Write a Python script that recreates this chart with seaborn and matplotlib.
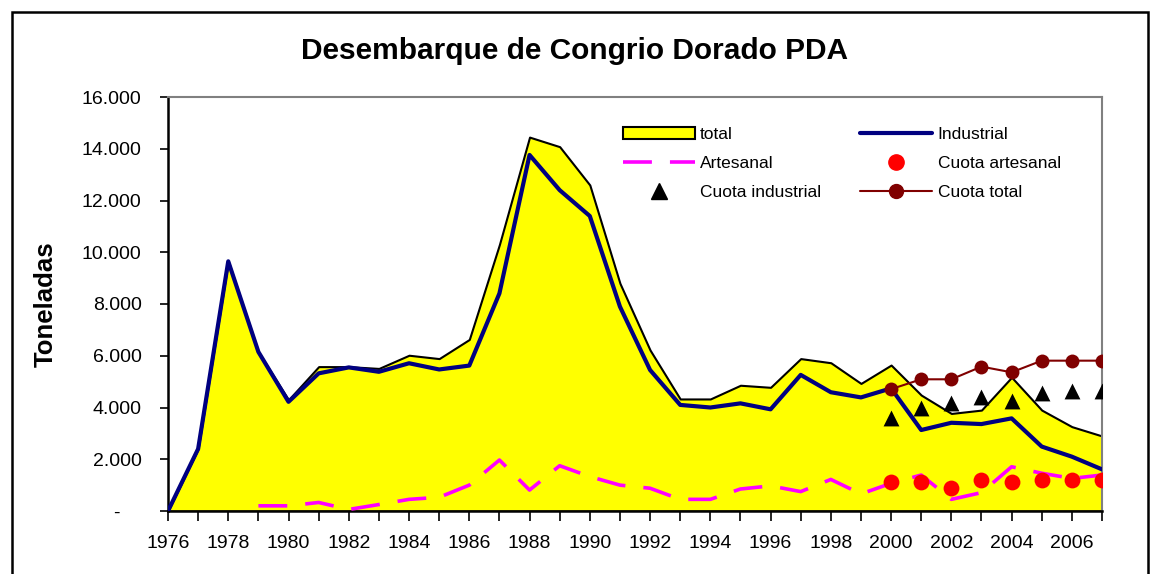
import numpy as np
import pandas as pd
import seaborn as sns
import matplotlib.pyplot as plt
from matplotlib.patches import Patch, Rectangle
from matplotlib.lines import Line2D

years = list(range(1976, 2008))
total = [0, 2400, 9650, 6150, 4300, 5580, 5580, 5510, 6020, 5890, 6630,
         10300, 14450, 14080, 12600, 8800, 6220, 4330, 4330, 4860, 4780,
         5890, 5730, 4930, 5640, 4480, 3770, 3900, 5170, 3900, 3260, 2900]
industrial = [0, 2400, 9650, 6150, 4220, 5320, 5550, 5380, 5710, 5470, 5620,
              8410, 13760, 12400, 11400, 7900, 5450, 4100, 4000, 4160, 3930,
              5260, 4590, 4390, 4740, 3130, 3410, 3360, 3580, 2490, 2100, 1610]
art_years = list(range(1979, 2008))
artesanal = [200, 200, 330, 60, 250, 450, 530, 1000, 1970, 810, 1750, 1330,
             1000, 880, 450, 450, 850, 970, 750, 1220, 660, 1070, 1390, 450,
             710, 1710, 1460, 1260, 1390]
cuota_years = list(range(2000, 2008))
cuota_art = [1130, 1130, 900, 1200, 1130, 1200, 1200, 1200]
cuota_ind = [3610, 3970, 4190, 4420, 4260, 4550, 4640, 4640]
cuota_tot = [4710, 5090, 5090, 5580, 5360, 5810, 5810, 5810]

df = pd.DataFrame({"year": years, "total": total, "industrial": industrial})
df_art = pd.DataFrame({"year": art_years, "artesanal": artesanal})
df_cuota = pd.DataFrame({"year": cuota_years, "art": cuota_art,
                         "ind": cuota_ind, "tot": cuota_tot})

sns.set_style("white")
plt.rcParams['font.family'] = ['Liberation Sans', 'DejaVu Sans']
plt.rcParams['text.color'] = 'black'
plt.rcParams['axes.labelcolor'] = 'black'
plt.rcParams['xtick.color'] = 'black'
plt.rcParams['ytick.color'] = 'black'

fig = plt.figure(figsize=(11.5, 5.74), dpi=100)
ax = fig.add_axes([168 / 1150, 1 - 511 / 574, 934 / 1150, 414 / 574])

# outer chart border
fig.patches.append(Rectangle((12 / 1150, -0.1), 1136 / 1150, 1.1 - 12 / 574,
                             transform=fig.transFigure, fill=False,
                             edgecolor='black', lw=1.8))

ax.fill_between(df["year"], df["total"], 0, facecolor='#FFFF00',
                edgecolor='black', lw=1.5, zorder=1)
sns.lineplot(data=df, x="year", y="industrial", color='#000080', lw=3,
             ax=ax, zorder=3)
sns.lineplot(data=df_art, x="year", y="artesanal", color='#FF00FF', lw=2.6,
             dashes=False, ax=ax, zorder=3).lines[-1].set_dashes((8, 5))
sns.lineplot(data=df_cuota, x="year", y="tot", color='#800000', lw=1.5,
             marker='o', markersize=10, markeredgewidth=0, ax=ax, zorder=4)
sns.scatterplot(data=df_cuota, x="year", y="art", color='#FF0000', s=130,
                linewidth=0, ax=ax, zorder=5)
sns.scatterplot(data=df_cuota, x="year", y="ind", color='black', marker='^',
                s=130, linewidth=0, ax=ax, zorder=5)

ax.set_xlim(1976, 2007)
ax.set_ylim(0, 16000)
ax.set_xticks(years)
ax.set_xticklabels([str(y) if y % 2 == 0 else '' for y in years])
yt = list(range(0, 16001, 2000))
ax.set_yticks(yt)
ax.set_yticklabels([f"{v:,}".replace(",", ".") if v else "-    " for v in yt])
ax.tick_params(axis='y', direction='out', length=6, width=1.2,
               labelsize=14, pad=13, left=True)
ax.tick_params(axis='x', direction='out', length=7, width=1.2,
               labelsize=14, pad=10, bottom=True)
for s in ['left', 'bottom']:
    ax.spines[s].set_color('black')
    ax.spines[s].set_linewidth(1.8)
for s in ['top', 'right']:
    ax.spines[s].set_color('#808080')
    ax.spines[s].set_linewidth(1.5)

ax.set_xlabel("")
ax.set_ylabel("")
fig.text(46 / 1150, 1 - 304 / 574, "Toneladas", rotation=90, ha='center',
         va='center', fontsize=18.5, fontweight='bold')
fig.text(0.5, 1 - 51 / 574, "Desembarque de Congrio Dorado PDA", ha='center',
         va='center', fontsize=21.5, fontweight='bold')

handles = [
    Patch(facecolor='#FFFF00', edgecolor='black', lw=1.5),
    Line2D([], [], color='#FF00FF', lw=2.6, dashes=(8, 5)),
    Line2D([], [], color='black', marker='^', ls='none', markersize=11),
    Line2D([], [], color='#000080', lw=3),
    Line2D([], [], color='#FF0000', marker='o', ls='none', markersize=11),
    Line2D([], [], color='#800000', lw=1.5, marker='o', markersize=10),
]
labels = ["total", "Artesanal", "Cuota industrial", "Industrial",
          "Cuota artesanal", "Cuota total"]
ax.legend(handles, labels, ncol=2, loc='upper left',
          bbox_to_anchor=((616 - 168) / 934, (511 - 120) / 414),
          frameon=False, fontsize=12.5, handlelength=4.15, handletextpad=0.3,
          columnspacing=2.25, labelspacing=0.8, borderaxespad=0)

fig.savefig("out.png", dpi=100)
